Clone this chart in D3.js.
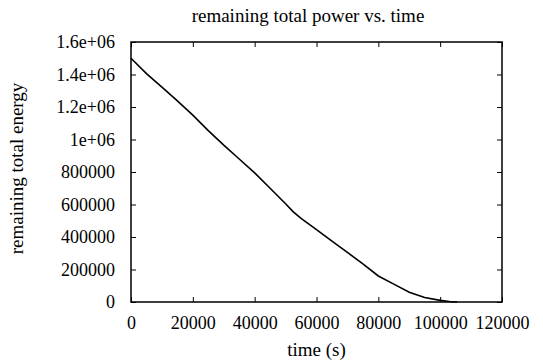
<!DOCTYPE html>
<html>
<head>
<meta charset="utf-8">
<script src="https://cdn.jsdelivr.net/npm/d3@7"></script>
<style>
  body{margin:0;background:#fff}
  svg text{font-family:"Liberation Serif","Times New Roman",serif;fill:#000}
</style>
</head>
<body>
<script>
// data
var times=[0,5000,10000,15000,20000,25000,30000,35000,40000,45000,50000,52500,55000,60000,65000,70000,75000,80000,85000,90000,95000,100000,103000,105500]
var energy=[1500000,1405000,1322000,1238000,1150000,1055000,965000,880000,795000,700000,605000,555000,515000,445000,375000,305000,235000,160000,110000,60000,28000,10000,3000,0]
var xTicks=[0,20000,40000,60000,80000,100000,120000]
var yTicks=[0,200000,400000,600000,800000,1000000,1200000,1400000,1600000]
var yTickLabels=["0","200000","400000","600000","800000","1e+06","1.2e+06","1.4e+06","1.6e+06"]

var screen={width:543,height:364}
var margins={top:42,right:41,bottom:62,left:131}
var width=screen.width-margins.left-margins.right
var height=screen.height-margins.top-margins.bottom

var xScale=d3.scaleLinear().domain([0,120000]).range([0,width])
var yScale=d3.scaleLinear().domain([0,1600000]).range([height,0])

var svg=d3.select("body").append("svg")
          .attr("width",screen.width)
          .attr("height",screen.height)
var plot=svg.append("g")
            .attr("transform","translate("+margins.left+","+margins.top+")")

//axes, ticks point inward on all four sides
var xAxis=d3.axisBottom(xScale).tickValues(xTicks).tickSizeInner(-5).tickSizeOuter(0).tickPadding(14)
              .tickFormat(d3.format("d"))
var yAxis=d3.axisLeft(yScale).tickValues(yTicks).tickSizeInner(-5).tickSizeOuter(0).tickPadding(16)
              .tickFormat(function(d,i){return yTickLabels[i]})
var xTop=d3.axisTop(xScale).tickValues(xTicks).tickSizeInner(-5).tickSizeOuter(0).tickFormat("")
var yRight=d3.axisRight(yScale).tickValues(yTicks).tickSizeInner(-5).tickSizeOuter(0).tickFormat("")

plot.append("g").attr("transform","translate(0,"+height+")").call(xAxis)
plot.append("g").call(yAxis)
plot.append("g").call(xTop)
plot.append("g").attr("transform","translate("+width+",0)").call(yRight)
plot.selectAll("g").attr("font-family","Liberation Serif").attr("font-size",18)
plot.selectAll(".domain").remove()
plot.selectAll(".tick line").attr("stroke","#000").attr("stroke-width",1)

//frame
plot.append("rect")
    .attr("x",0).attr("y",0)
    .attr("width",width).attr("height",height)
    .attr("fill","none").attr("stroke","#000").attr("stroke-width",1.5)

//curve
var drawLine=d3.line()
               .x(function(d,i){return xScale(times[i])})
               .y(function(d){return yScale(d)})
plot.append("path")
    .datum(energy)
    .attr("d",drawLine)
    .attr("fill","none")
    .attr("stroke","#000")
    .attr("stroke-width",1.6)

//titles
svg.append("text")
   .attr("x",308).attr("y",22)
   .attr("text-anchor","middle").style("font-size","19px")
   .text("remaining total power vs. time")
svg.append("text")
   .attr("x",margins.left+width/2).attr("y",356)
   .attr("text-anchor","middle").style("font-size","19px")
   .text("time (s)")
svg.append("text")
   .attr("transform","translate(23,168.5) rotate(-90)")
   .attr("text-anchor","middle").style("font-size","19px")
   .text("remaining total energy")
</script>
</body>
</html>
